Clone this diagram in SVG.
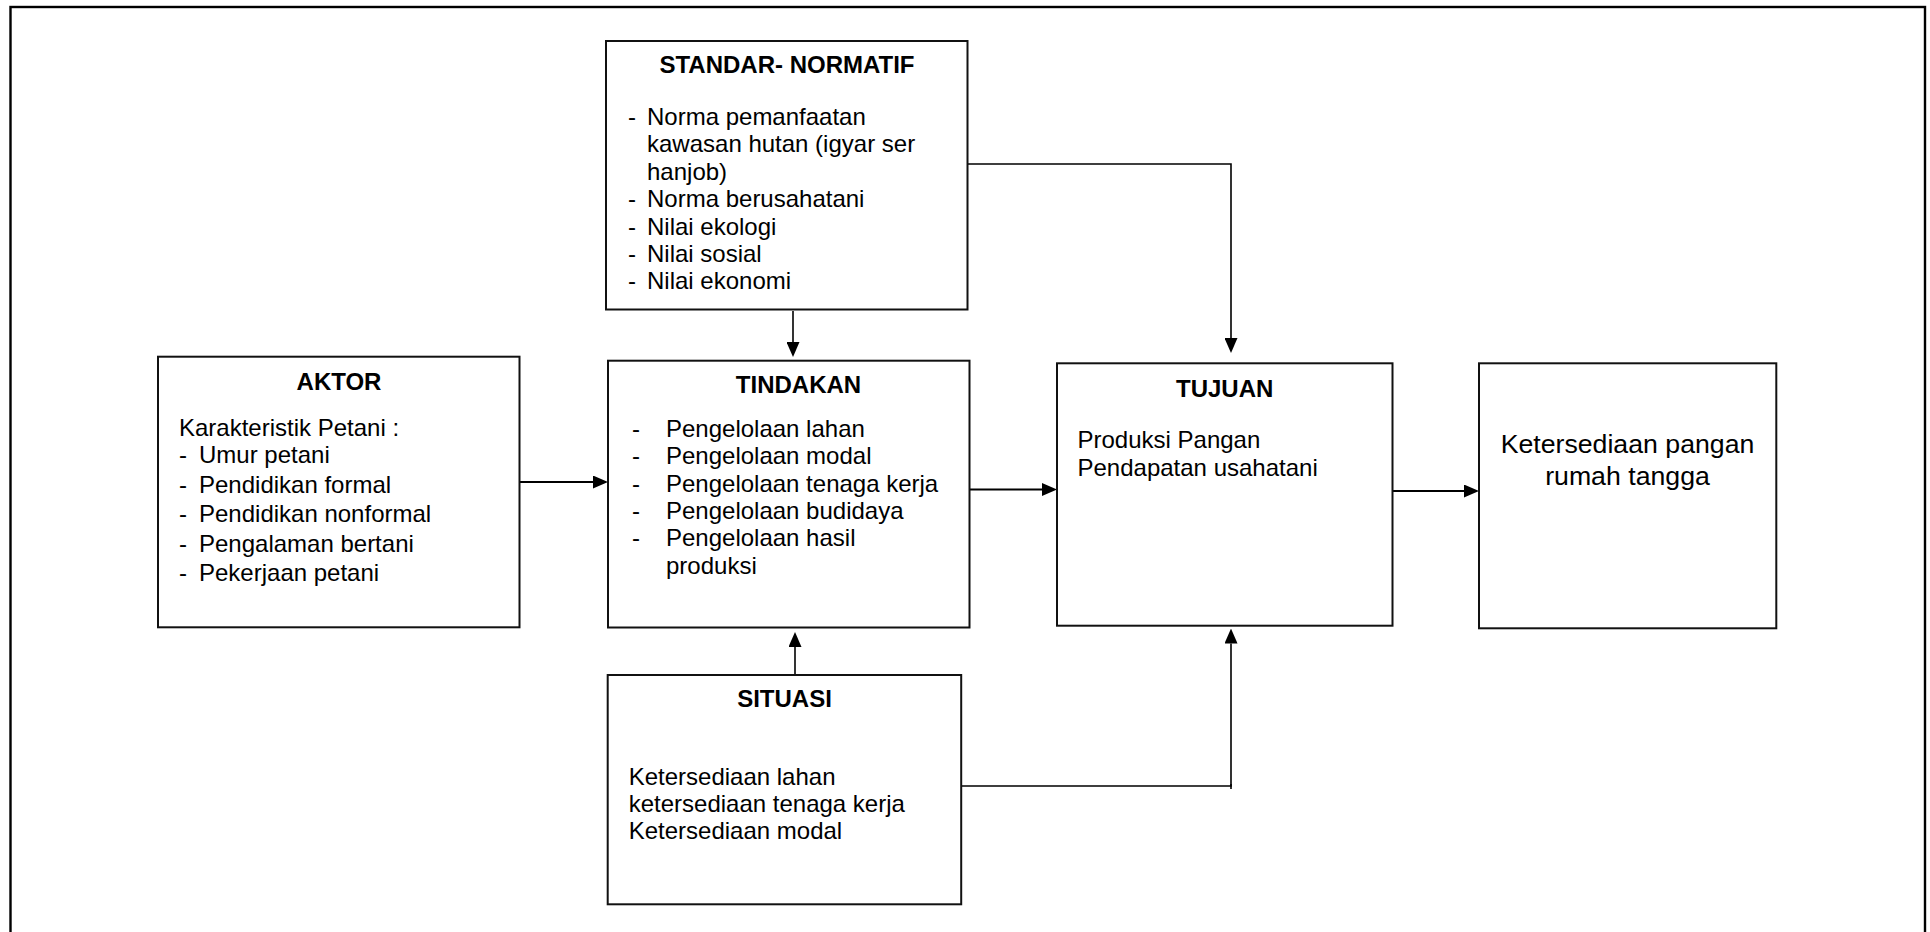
<svg xmlns="http://www.w3.org/2000/svg" width="1930" height="932" viewBox="0 0 1930 932">
<style>
.box{fill:#fff;stroke:#111;stroke-width:2}
.t{font-family:"Liberation Sans",Arial,sans-serif;font-size:24px;fill:#000}
.h{font-family:"Liberation Sans",Arial,sans-serif;font-size:24px;font-weight:bold;fill:#000;text-anchor:middle}
.big{font-family:"Liberation Sans",Arial,sans-serif;font-size:26.7px;fill:#000;text-anchor:middle}
.c{fill:none;stroke:#000;stroke-width:1.6}
.c2{fill:none;stroke:#000;stroke-width:2}
</style>
<defs>
<marker id="ah" markerWidth="15" markerHeight="13" refX="0" refY="6.5" orient="auto" markerUnits="userSpaceOnUse">
<path d="M0,0 L15,6.5 L0,13 z" fill="#000"/>
</marker>
</defs>
<rect x="0" y="0" width="1930" height="932" fill="#fff"/>
<rect x="10.5" y="7" width="1914.5" height="1000" fill="none" stroke="#000" stroke-width="2.4"/>

<g id="connectors">
<path class="c" d="M793,311 V342" marker-end="url(#ah)"/>
<path class="c" d="M968,164 H1231 V338" marker-end="url(#ah)"/>
<path class="c2" d="M519.5,482 H593" marker-end="url(#ah)"/>
<path class="c2" d="M969.5,489.5 H1042" marker-end="url(#ah)"/>
<path class="c2" d="M1392.5,491 H1464" marker-end="url(#ah)"/>
<path class="c" d="M795,675 V647" marker-end="url(#ah)"/>
<path class="c" d="M961,786 H1231 V643.5" marker-end="url(#ah)"/>
<path class="c" d="M1231,784 V789"/>
</g>

<g id="standar">
<rect class="box" x="606" y="41" width="361.5" height="268.5"/>
<text class="h" x="787" y="73">STANDAR- NORMATIF</text>
<text class="t" x="628" y="125">-</text><text class="t" x="647" y="125">Norma pemanfaatan</text>
<text class="t" x="647" y="152.4">kawasan hutan (igyar ser</text>
<text class="t" x="647" y="179.8">hanjob)</text>
<text class="t" x="628" y="207.2">-</text><text class="t" x="647" y="207.2">Norma berusahatani</text>
<text class="t" x="628" y="234.6">-</text><text class="t" x="647" y="234.6">Nilai ekologi</text>
<text class="t" x="628" y="262">-</text><text class="t" x="647" y="262">Nilai sosial</text>
<text class="t" x="628" y="289.4">-</text><text class="t" x="647" y="289.4">Nilai ekonomi</text>
</g>

<g id="aktor">
<rect class="box" x="158" y="356.7" width="361.5" height="270.6"/>
<text class="h" x="339" y="390">AKTOR</text>
<text class="t" x="179" y="436">Karakteristik Petani :</text>
<text class="t" x="179" y="463">-</text><text class="t" x="199" y="463">Umur petani</text>
<text class="t" x="179" y="492.5">-</text><text class="t" x="199" y="492.5">Pendidikan formal</text>
<text class="t" x="179" y="522">-</text><text class="t" x="199" y="522">Pendidikan nonformal</text>
<text class="t" x="179" y="551.5">-</text><text class="t" x="199" y="551.5">Pengalaman bertani</text>
<text class="t" x="179" y="581">-</text><text class="t" x="199" y="581">Pekerjaan petani</text>
</g>

<g id="tindakan">
<rect class="box" x="608" y="360.7" width="361.5" height="266.8"/>
<text class="h" x="798.5" y="393">TINDAKAN</text>
<text class="t" x="632" y="436.7">-</text><text class="t" x="666" y="436.7">Pengelolaan lahan</text>
<text class="t" x="632" y="464.1">-</text><text class="t" x="666" y="464.1">Pengelolaan modal</text>
<text class="t" x="632" y="491.5">-</text><text class="t" x="666" y="491.5">Pengelolaan tenaga kerja</text>
<text class="t" x="632" y="518.9">-</text><text class="t" x="666" y="518.9">Pengelolaan budidaya</text>
<text class="t" x="632" y="546.3">-</text><text class="t" x="666" y="546.3">Pengelolaan hasil</text>
<text class="t" x="666" y="573.7">produksi</text>
</g>

<g id="tujuan">
<rect class="box" x="1057" y="363.3" width="335.5" height="262.4"/>
<text class="h" x="1224.7" y="396.7">TUJUAN</text>
<text class="t" x="1077.5" y="448.3">Produksi Pangan</text>
<text class="t" x="1077.5" y="475.7">Pendapatan usahatani</text>
</g>

<g id="ketersediaan">
<rect class="box" x="1479" y="363.3" width="297.3" height="265"/>
<text class="big" x="1627.5" y="453.3">Ketersediaan pangan</text>
<text class="big" x="1627.5" y="485">rumah tangga</text>
</g>

<g id="situasi">
<rect class="box" x="607.7" y="675" width="353.5" height="229.3"/>
<text class="h" x="784.5" y="707.3">SITUASI</text>
<text class="t" x="628.7" y="785">Ketersediaan lahan</text>
<text class="t" x="628.7" y="812">ketersediaan tenaga kerja</text>
<text class="t" x="628.7" y="839.3">Ketersediaan modal</text>
</g>
</svg>
